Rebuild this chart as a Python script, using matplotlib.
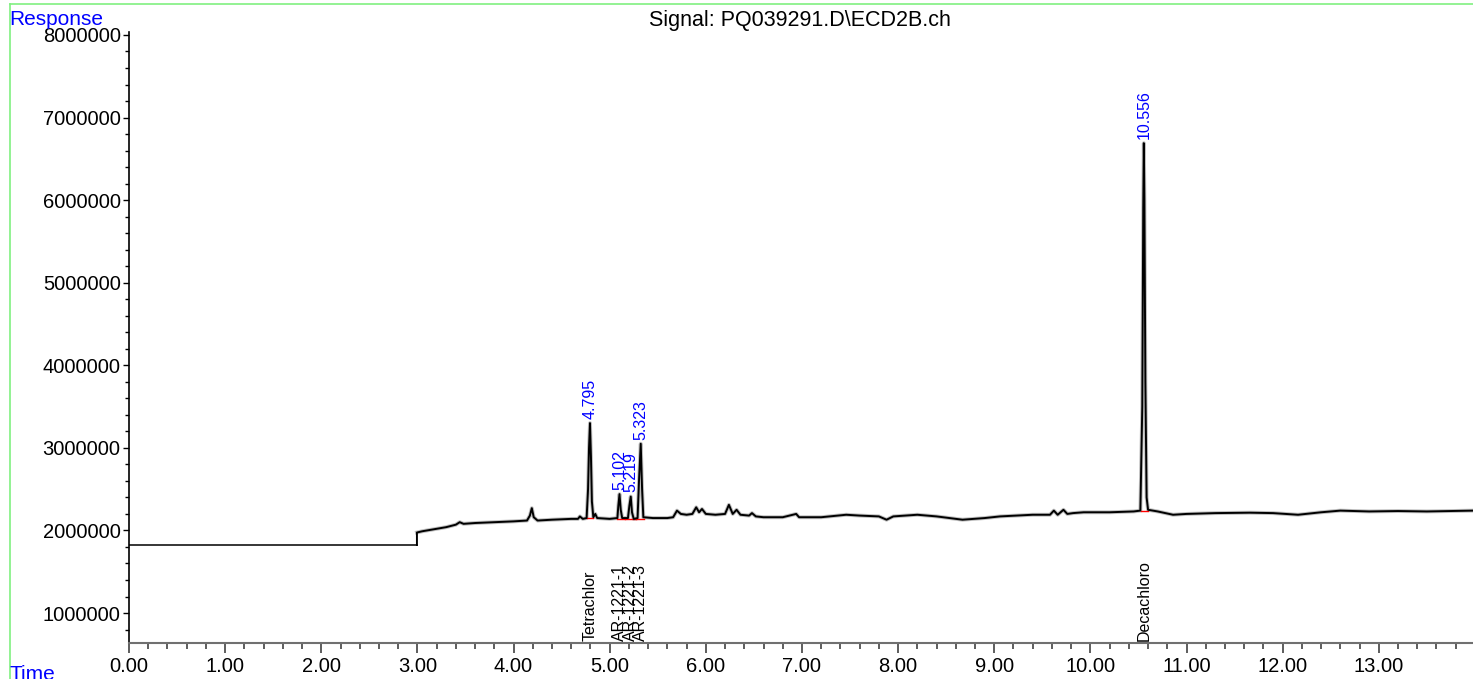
import matplotlib
matplotlib.use('Agg')
import matplotlib.pyplot as plt
from matplotlib.ticker import MultipleLocator, FuncFormatter
from matplotlib.lines import Line2D

plt.rcParams['font.family'] = ['Liberation Sans', 'DejaVu Sans']

# ---- data ----
time_min = [0.00, 2.995, 2.995, 3.05, 3.10, 3.20, 3.30, 3.40, 3.44, 3.48, 3.60, 3.80, 4.00,
            4.14, 4.17, 4.19, 4.21, 4.25, 4.40, 4.60, 4.67, 4.69, 4.72, 4.76, 4.775, 4.785,
            4.795, 4.805, 4.815, 4.83, 4.85, 4.87, 5.00, 5.08, 5.09, 5.102, 5.115, 5.13, 5.19,
            5.205, 5.219, 5.232, 5.25, 5.29, 5.305, 5.323, 5.337, 5.35, 5.45, 5.60, 5.66, 5.70,
            5.74, 5.80, 5.86, 5.90, 5.93, 5.96, 6.00, 6.10, 6.20, 6.24, 6.28, 6.32, 6.36, 6.45,
            6.48, 6.52, 6.60, 6.80, 6.94, 6.97, 7.20, 7.46, 7.60, 7.80, 7.88, 7.95, 8.20, 8.40,
            8.67, 8.90, 9.06, 9.40, 9.58, 9.62, 9.66, 9.72, 9.76, 9.82, 9.93, 10.20, 10.45,
            10.52, 10.54, 10.55, 10.556, 10.562, 10.572, 10.585, 10.60, 10.70, 10.86, 11.00,
            11.30, 11.66, 11.90, 12.16, 12.40, 12.60, 12.90, 13.20, 13.50, 13.98]
response_m = [1.824, 1.824, 1.975, 1.99, 2.00, 2.02, 2.04, 2.07, 2.10, 2.08, 2.09, 2.10, 2.11,
              2.12, 2.18, 2.27, 2.16, 2.12, 2.13, 2.14, 2.14, 2.17, 2.14, 2.15, 2.50, 3.00,
              3.30, 2.90, 2.35, 2.16, 2.20, 2.15, 2.14, 2.15, 2.30, 2.44, 2.25, 2.15, 2.15,
              2.30, 2.41, 2.22, 2.14, 2.15, 2.60, 3.05, 2.50, 2.16, 2.15, 2.15, 2.16, 2.24,
              2.20, 2.19, 2.20, 2.28, 2.22, 2.26, 2.20, 2.19, 2.20, 2.31, 2.20, 2.25, 2.19, 2.18,
              2.21, 2.17, 2.16, 2.16, 2.20, 2.16, 2.16, 2.19, 2.18, 2.17, 2.13, 2.17, 2.19, 2.17,
              2.13, 2.15, 2.17, 2.19, 2.19, 2.24, 2.19, 2.25, 2.20, 2.21, 2.22, 2.22, 2.23,
              2.24, 3.50, 5.90, 6.69, 6.00, 3.80, 2.40, 2.25, 2.23, 2.19, 2.20,
              2.21, 2.215, 2.21, 2.19, 2.22, 2.24, 2.23, 2.235, 2.23, 2.24]
response = [v * 1e6 for v in response_m]

peak_rt = [4.795, 5.102, 5.219, 5.323, 10.556]
peak_labels = ['4.795', '5.102', '5.219', '5.323', '10.556']
peak_apex = [3.30e6, 2.44e6, 2.41e6, 3.05e6, 6.69e6]
compound_names = ['Tetrachlor', 'AR-1221-1', 'AR-1221-2', 'AR-1221-3', 'Decachloro']

int_start = [4.765, 5.08, 5.16, 5.27, 10.53]
int_end = [4.83, 5.16, 5.27, 5.36, 10.60]
int_level = [2.15e6, 2.14e6, 2.14e6, 2.14e6, 2.23e6]

x_ticks = [float(i) for i in range(14)]
y_ticks = [1000000, 2000000, 3000000, 4000000, 5000000, 6000000, 7000000, 8000000]

W, H = 1473, 679
fig = plt.figure(figsize=(W / 100, H / 100), dpi=100)
ax = fig.add_axes([129 / W, 1 - 643 / H, 1 - 129 / W, (643 - 32) / H])

# detector trace: flat part before the step is thin; a soft grey band mimics baseline noise
ax.plot(time_min[:2], response[:2], color='black', lw=1.1, zorder=3)
ax.plot(time_min[2:], response[2:], color='#808080', lw=2.8, alpha=0.5, zorder=2,
        solid_joinstyle='round')
ax.plot(time_min[1:], response[1:], color='black', lw=1.4, zorder=3)
for s, e, l in zip(int_start, int_end, int_level):
    ax.plot([s, e], [l, l], color='red', lw=1.0, zorder=2.5)

ax.set_xlim(0, 13.98)
ax.set_ylim(0.637e6, 8.036e6)

ax.set_xticks(x_ticks)
ax.xaxis.set_major_formatter(FuncFormatter(lambda v, p: f'{v:.2f}'))
ax.xaxis.set_minor_locator(MultipleLocator(0.2))
ax.set_yticks(y_ticks)
ax.yaxis.set_major_formatter(FuncFormatter(lambda v, p: f'{int(round(v))}'))
ax.yaxis.set_minor_locator(MultipleLocator(200000))

ax.spines['top'].set_visible(False)
ax.spines['right'].set_visible(False)
ax.spines['bottom'].set_color('#707070')
ax.spines['bottom'].set_linewidth(1.5)
ax.spines['left'].set_color('black')
ax.spines['left'].set_linewidth(1.2)

ax.tick_params(axis='x', which='major', length=7, width=1.3, color='#505050', labelsize=14.5, pad=3)
ax.tick_params(axis='x', which='minor', length=4, width=1.3, color='#505050')
ax.tick_params(axis='y', which='major', length=4, width=1.0, color='black', labelsize=14.5, pad=2)
ax.tick_params(axis='y', which='minor', length=3, width=1.0, color='black')

for rt, lab, ap in zip(peak_rt, peak_labels, peak_apex):
    ax.annotate(lab, xy=(rt, ap), xytext=(0, 3), textcoords='offset points',
                rotation=90, ha='center', va='bottom', color='blue', fontsize=11.5)

for rt, name in zip(peak_rt, compound_names):
    ax.annotate(name, xy=(rt, 0), xycoords=('data', 'axes fraction'), xytext=(0, 1.5),
                textcoords='offset points', rotation=90, ha='center', va='bottom',
                color='black', fontsize=11.5)

fig.text(800 / W, 1 - 26 / H, 'Signal: PQ039291.D\\ECD2B.ch', ha='center', va='baseline',
         fontsize=15.5, color='black')
fig.text(9 / W, 1 - 25 / H, 'Response', ha='left', va='baseline', fontsize=15, color='blue')
fig.text(9 / W, 1 - 680 / H, 'Time', ha='left', va='baseline', fontsize=15, color='blue')

green = '#80f080'
fig.add_artist(Line2D([9.5 / W, 9.5 / W], [0, 1 - 4 / H], color=green, lw=1.2))
fig.add_artist(Line2D([9.5 / W, 1], [1 - 4 / H, 1 - 4 / H], color=green, lw=1.2))

fig.savefig('out.png', dpi=100)
